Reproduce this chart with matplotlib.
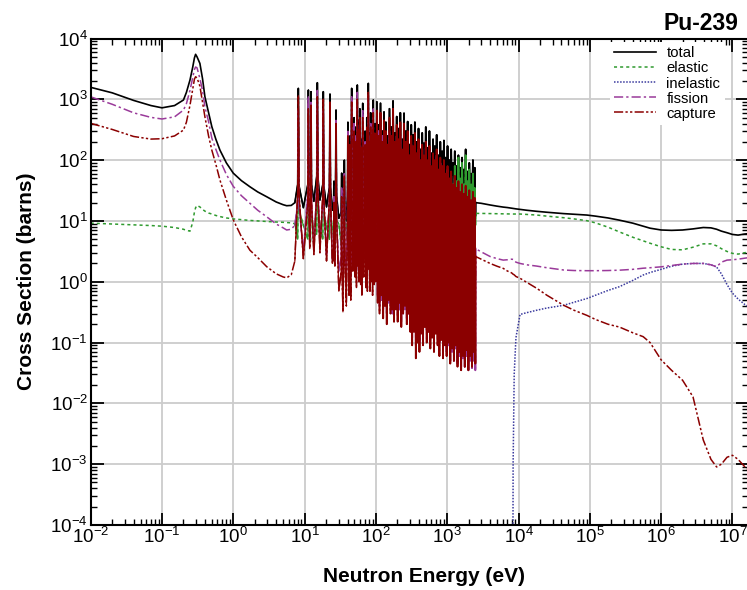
import numpy as np
import matplotlib.pyplot as plt
from matplotlib.ticker import LogLocator, NullFormatter

plt.rcParams['font.family'] = 'Liberation Sans'
plt.rcParams['mathtext.fontset'] = 'custom'
plt.rcParams['mathtext.rm'] = 'Liberation Sans'
plt.rcParams['mathtext.it'] = 'Liberation Sans:italic'
plt.rcParams['mathtext.bf'] = 'Liberation Sans:bold'

# thermal / epithermal smooth part (eV, barns)
E_lo = [0.01, 0.02, 0.04, 0.07, 0.1, 0.15, 0.2, 0.22, 0.247, 0.27, 0.285, 0.296, 0.31, 0.34,
        0.37, 0.4, 0.45, 0.5, 0.57, 0.65, 0.8, 1.0, 1.3, 1.71, 2.2, 2.94, 4.0, 5.0, 5.6, 6.5, 7.3]
tot_lo = [1575, 1280, 960, 790, 725, 790, 975, 1300, 2080, 3400, 4800, 5500, 5000, 3900,
          2200, 1100, 600, 355, 220, 146, 90, 61, 46, 36.5, 30, 25, 20.5, 18.5, 17.8, 18, 20]
ela_lo = [9.2, 8.9, 8.6, 8.4, 8.2, 7.8, 7.3, 7.0, 6.8, 9.5, 14, 16.5, 18, 17,
          15.5, 14.5, 13.5, 13, 12.3, 11.8, 11.2, 10.8, 10.5, 10.2, 10, 9.8, 9.6, 9.5, 9.4, 9.3, 9.0]
fis_lo = [1100, 830, 600, 505, 475, 515, 665, 850, 1400, 2300, 3100, 3400, 3300, 2200,
          1400, 750, 430, 230, 150, 100, 58, 37, 26, 19.5, 15, 11.7, 8.9, 7.7, 7.1, 7.3, 8.5]
cap_lo = [403, 320, 245, 222, 225, 250, 312, 420, 800, 1500, 2150, 2350, 2250, 1650,
          900, 515, 250, 146, 85, 47, 22, 10.4, 5.5, 3.3, 2.5, 1.77, 1.35, 1.2, 1.16, 1.3, 2.2]

# resolved resonances 8-100 eV: left foot, peak, right foot, valley after it
lo_lf_E = [8.0, 11.1, 12.1, 14.8, 18.0, 22.3, 25.4, 27.1, 32.6, 35.5, 39.9, 42.7, 44.9, 48.7,
           51.8, 54.0, 56.9, 58.5, 62.0, 64.2, 69.3, 73.9, 77.0, 81.0, 83.1, 87.9, 90.4, 95.4]
lo_pk_E = [8.17, 11.3, 12.3, 15.1, 18.3, 22.7, 25.8, 27.6, 33.1, 36.1, 40.5, 43.3, 45.7, 49.5,
           52.3, 54.9, 57.3, 59.5, 62.5, 65.3, 70.5, 74.5, 78.3, 81.5, 84.5, 88.5, 91.9, 97.0]
lo_rf_E = [8.35, 11.5, 12.5, 15.4, 18.6, 23.1, 26.2, 28.1, 33.6, 36.7, 41.1, 43.9, 46.5, 50.3,
           52.8, 55.8, 57.7, 60.5, 63.0, 66.4, 71.7, 75.1, 79.6, 82.0, 85.9, 89.1, 93.4, 98.6]
lo_vl_E = [9.6, 11.8, 13.5, 16.4, 20.3, 24.5, 26.6, 30.2, 34.5, 38.5, 42.0, 44.4, 47.5, 51.0,
           53.4, 56.3, 58.1, 61.2, 63.6, 67.5, 72.8, 76.0, 80.4, 82.6, 86.9, 89.8, 94.5, 100.0]

tot_lf = [40, 40, 38, 55, 40, 36, 18, 28, 14, 16, 25, 20, 45, 24, 22, 50, 25, 30, 18, 32,
          18, 24, 50, 20, 28, 22, 35, 22]
tot_pk = [1515, 1420, 1335, 1875, 1335, 1220, 45, 667, 61, 100, 420, 250, 1515, 500, 350, 1720,
          450, 700, 220, 860, 300, 500, 1830, 280, 600, 380, 975, 400]
tot_rf = [38, 42, 40, 52, 38, 35, 17, 26, 13, 15, 24, 19, 44, 23, 21, 48, 24, 28, 17, 30,
          17, 23, 48, 19, 26, 21, 33, 21]
tot_vl = [16.5, 19, 21, 22, 17, 15, 14, 11, 10.5, 10, 11, 11, 13, 14, 12, 13, 12, 12, 11, 12,
          11, 12, 14, 12, 13, 12, 12, 13]

ela_lf = [5, 5, 4.5, 6, 5, 5, 6, 6, 4, 5, 5, 5, 6, 5, 5, 6, 5, 5, 5, 6, 5, 5, 6, 5, 5, 5, 6, 5]
ela_pk = [60, 55, 40, 90, 45, 40, 12, 25, 14, 14, 30, 20, 60, 30, 25, 70, 25, 30, 18, 35,
          20, 28, 70, 20, 30, 22, 40, 25]
ela_rf = [15, 14, 12, 18, 13, 12, 7, 10, 6, 7, 10, 9, 15, 10, 9, 16, 10, 10, 8, 11,
          8, 10, 16, 8, 10, 9, 12, 9]
ela_vl = [8.5, 7, 6.5, 7.5, 8, 8, 8.5, 9, 5, 9, 5, 7, 8.5, 9, 7, 6, 8, 9, 7, 8.5,
          9, 8, 5, 7, 9, 8, 8.5, 9]

fis_lf = [20, 30, 25, 40, 20, 22, 3, 14, 2.5, 4, 10, 8, 30, 12, 10, 35, 12, 14, 8, 18,
          7, 12, 32, 9, 12, 10, 20, 9]
fis_pk = [700, 1100, 900, 1400, 700, 800, 25, 450, 35, 60, 300, 150, 1100, 400, 250, 1300,
          300, 450, 150, 650, 200, 300, 1200, 180, 400, 250, 700, 250]
fis_rf = [18, 28, 23, 38, 18, 20, 2.8, 12, 2.2, 3.5, 9, 7, 28, 11, 9, 32, 11, 13, 7, 17,
          6.5, 11, 30, 8, 11, 9, 18, 8]
fis_vl = [3.0, 4.5, 3.3, 4.0, 2.8, 2.2, 2.0, 1.5, 1.3, 1.4, 2.0, 1.2, 3.0, 2.5, 1.5, 3.5,
          2.0, 2.2, 1.5, 3.0, 2.0, 1.5, 3.5, 1.4, 2.5, 1.5, 2.0, 2.5]

cap_lf = [30, 20, 22, 30, 28, 25, 2.5, 12, 1.5, 3, 8, 7, 25, 9, 8, 28, 10, 14, 7, 14,
          6, 11, 35, 8, 10, 9, 17, 8]
cap_pk = [1150, 700, 800, 1100, 1000, 900, 20, 400, 25, 55, 250, 180, 900, 300, 200, 1000,
          320, 500, 160, 500, 180, 350, 1300, 200, 350, 260, 600, 280]
cap_rf = [28, 18, 20, 28, 26, 23, 2.2, 11, 1.2, 2.6, 7, 6, 23, 8, 7, 26, 9, 13, 6, 13,
          5.5, 10, 32, 7, 9, 8, 16, 7.5]
cap_vl = [2.4, 3.5, 2.8, 3.0, 2.2, 2.0, 1.8, 0.7, 0.32, 0.4, 0.6, 0.5, 1.5, 1.2, 0.8, 1.8,
          1.0, 0.9, 0.6, 1.2, 0.8, 0.7, 1.6, 0.7, 1.0, 0.6, 0.9, 1.0]

# dense resonances 100 eV - 2.5 keV: peak, valley after it
d_pk_E = [103, 109, 116, 123, 130, 138, 146, 155, 165, 174, 185, 196, 208, 220, 234, 248, 263,
          279, 296, 313, 332, 352, 374, 396, 420, 446, 472, 501, 531, 563, 597, 633, 671, 712,
          755, 800, 848, 899, 953, 1011, 1072, 1136, 1205, 1278, 1355, 1436, 1523, 1615, 1712,
          1815, 1925, 2040, 2163, 2294, 2430]
d_vl_E = [106, 112.5, 119.5, 126.5, 134, 142, 150.5, 160, 169.5, 179.5, 190.5, 202, 214, 227,
          241, 255.5, 271, 287.5, 304.5, 322.5, 342, 363, 385, 408, 433, 459, 486.5, 516, 547,
          580, 615, 652, 691.5, 733.5, 777.5, 824, 873.5, 926, 982, 1041, 1104, 1170, 1241,
          1316, 1395, 1479, 1569, 1663, 1763, 1870, 1982, 2100, 2228, 2360, 2480]

tot_dpk = [900, 380, 860, 300, 620, 420, 250, 700, 350, 940, 280, 520, 330, 600, 220, 590, 300,
           430, 180, 380, 260, 420, 200, 330, 150, 280, 190, 350, 160, 300, 130, 220, 170, 260,
           120, 200, 140, 210, 110, 170, 100, 150, 90, 140, 80, 120, 75, 110, 70,
           150, 65, 90, 60, 100, 75]
tot_dvl = [12, 10, 13, 9.5, 11, 12, 10, 13, 11, 9.5, 12, 10.5, 13, 10, 11.5, 12, 10, 12.5, 9, 11,
           12, 10, 11.5, 12, 10, 11, 12.5, 10, 11, 12, 10.5, 11, 12, 10, 11.5, 10.5, 12, 11, 10,
           12, 11, 12.5, 10.5, 12, 11, 13, 11, 12, 11.5, 13, 11, 12.5, 12, 13, 12]
ela_dpk = [40, 20, 50, 18, 35, 25, 15, 45, 20, 60, 18, 30, 20, 35, 15, 40, 20, 30, 14, 28,
           20, 30, 15, 25, 14, 22, 16, 28, 15, 25, 14, 22, 18, 26, 15, 24, 18, 28, 20, 35,
           30, 55, 40, 80, 45, 110, 50, 90, 40, 120, 45, 70, 40, 60, 35]
ela_dvl = [8, 6, 9, 5, 7, 8.5, 6.5, 9, 7, 5.5, 8, 6, 9, 7, 8, 6, 9, 7.5, 6, 8.5,
           7, 9, 6.5, 8, 7, 9, 6, 8.5, 7, 9, 6.5, 8, 7.5, 9, 6, 8.5, 7, 9, 6.5, 8,
           7, 9, 6.5, 8.5, 7, 9.5, 7, 9, 7.5, 10, 7, 9, 8, 9.5, 8.5]
fis_dpk = [500, 300, 350, 250, 300, 200, 150, 300, 200, 350, 150, 250, 200, 250, 120, 300, 150,
           200, 100, 180, 120, 200, 110, 150, 90, 150, 100, 160, 90, 140, 75, 110, 90, 120,
           65, 90, 70, 80, 55, 70, 45, 55, 38, 50, 32, 40, 28, 36, 26, 34, 24, 30, 21, 28, 23]
fis_dvl = [0.6, 0.4, 0.5, 0.35, 0.5, 0.3, 0.45, 0.4, 0.3, 0.3, 0.4, 0.28, 0.35, 0.22, 0.3,
           0.35, 0.25, 0.3, 0.2, 0.12, 0.25, 0.09, 0.15, 0.1, 0.18, 0.14, 0.2, 0.16, 0.2, 0.14,
           0.16, 0.12, 0.18, 0.14, 0.1, 0.14, 0.09, 0.11, 0.07, 0.09, 0.05, 0.07, 0.05, 0.08,
           0.045, 0.06, 0.04, 0.055, 0.04, 0.06, 0.035, 0.05, 0.038, 0.05, 0.035]
cap_dpk = [650, 250, 600, 200, 450, 300, 180, 500, 250, 700, 200, 380, 220, 420, 150, 400, 200,
           300, 120, 250, 170, 280, 130, 220, 100, 180, 120, 200, 100, 170, 80, 130, 100, 150,
           70, 110, 80, 100, 60, 80, 50, 65, 40, 55, 35, 45, 30, 40, 28, 38, 25, 32, 22, 30, 24]
cap_dvl = [0.45, 0.3, 0.6, 0.25, 0.4, 0.2, 0.5, 0.3, 0.35, 0.22, 0.35, 0.22, 0.45, 0.18, 0.3,
           0.4, 0.2, 0.3, 0.15, 0.09, 0.15, 0.055, 0.1, 0.07, 0.14, 0.09, 0.18, 0.1, 0.15, 0.08,
           0.12, 0.07, 0.14, 0.09, 0.06, 0.11, 0.055, 0.09, 0.06, 0.1, 0.045, 0.08, 0.05, 0.09,
           0.04, 0.07, 0.035, 0.06, 0.04, 0.075, 0.035, 0.06, 0.04, 0.07, 0.045]

# fast region, smooth
E_hi = [2500, 3000, 4000, 5000, 6100, 7000, 8000, 8400, 8700, 9200, 1.05e4, 1.3e4, 1.8e4,
        2.5e4, 4.3e4, 6e4, 9.1e4, 1.2e5, 1.8e5, 2.6e5, 4e5, 5.6e5, 7e5, 1e6, 1.4e6, 2e6,
        2.8e6, 3.9e6, 5e6, 6e6, 7e6, 8.4e6, 1e7, 1.2e7, 1.5e7, 1.7e7]
tot_hi = [20, 19.5, 18.3, 17.5, 16.9, 16.6, 16.2, 16.1, 16.0, 15.8, 15.5, 15.0, 14.4,
          13.9, 13.2, 12.9, 12.5, 12.0, 11.2, 10.3, 9.2, 8.2, 7.6, 7.1, 7.0, 7.1,
          7.4, 7.8, 7.7, 7.3, 6.8, 6.4, 6.0, 5.85, 6.1, 6.2]
ela_hi = [13.3, 13.3, 13.2, 13.1, 13.1, 13.0, 13.0, 13.0, 13.0, 13.0, 13.0, 12.8, 12.5,
          12.0, 11.3, 10.8, 10.1, 9.3, 7.9, 6.6, 5.4, 4.7, 4.3, 3.76, 3.4, 3.35,
          3.7, 4.2, 4.2, 3.9, 3.5, 3.15, 2.93, 2.85, 3.0, 3.1]
fis_hi = [3.5, 3.1, 2.6, 2.4, 2.27, 2.3, 2.35, 2.33, 2.25, 2.1, 2.0, 1.9, 1.81,
          1.7, 1.56, 1.53, 1.52, 1.52, 1.53, 1.55, 1.6, 1.67, 1.7, 1.76, 1.85, 1.95,
          2.0, 2.0, 1.9, 1.76, 2.1, 2.27, 2.3, 2.35, 2.45, 2.5]
cap_hi = [2.6, 2.35, 2.0, 1.8, 1.66, 1.5, 1.4, 1.33, 1.3, 1.22, 1.14, 0.98, 0.78,
          0.6, 0.41, 0.34, 0.28, 0.24, 0.2, 0.18, 0.145, 0.125, 0.1, 0.052, 0.035, 0.024,
          0.0128, 0.0025, 0.0012, 9e-4, 1.0e-3, 1.3e-3, 1.4e-3, 1.2e-3, 9e-4, 8e-4]

inel_E = [8300, 8400, 8700, 9200, 1.05e4, 1.3e4, 1.8e4, 2.5e4, 4.3e4, 6e4, 9.1e4, 1.2e5,
          1.8e5, 2.6e5, 4e5, 5.6e5, 7e5, 1e6, 1.4e6, 2e6, 2.8e6, 3.9e6, 5e6, 6e6, 7e6,
          8.4e6, 1e7, 1.2e7, 1.5e7, 1.7e7]
inel_xs = [1e-6, 1e-3, 0.03, 0.12, 0.29, 0.31, 0.34, 0.37, 0.41, 0.46, 0.53, 0.6,
           0.72, 0.83, 1.05, 1.29, 1.42, 1.6, 1.8, 1.95, 2.0, 2.0, 1.9, 1.75, 1.35,
           0.9, 0.65, 0.52, 0.42, 0.39]


def weave(*cols):
    # interleave the lists point by point: a0, b0, c0, a1, b1, c1 ...
    return np.column_stack(cols).ravel()


lo_E = weave(lo_lf_E, lo_pk_E, lo_rf_E, lo_vl_E)
d_E = weave(d_pk_E, d_vl_E)

fig = plt.figure(figsize=(7.47, 5.90), dpi=100)
ax = fig.add_axes([0.1214, 0.1102, 0.8806, 0.8245])

channels = [
    ('total', (tot_lo, tot_lf, tot_pk, tot_rf, tot_vl, tot_dpk, tot_dvl, tot_hi),
     'black', '-', 1.2),
    ('elastic', (ela_lo, ela_lf, ela_pk, ela_rf, ela_vl, ela_dpk, ela_dvl, ela_hi),
     '#2f9a2f', (0, (2, 2)), 1.1),
    ('inelastic', None, '#3a3a9e', (0, (1, 1)), 1.1),
    ('fission', (fis_lo, fis_lf, fis_pk, fis_rf, fis_vl, fis_dpk, fis_dvl, fis_hi),
     '#9a3a9a', (0, (6, 2, 1.5, 2)), 1.1),
    ('capture', (cap_lo, cap_lf, cap_pk, cap_rf, cap_vl, cap_dpk, cap_dvl, cap_hi),
     '#8b0000', (0, (6, 1.5, 1.5, 1.5, 1.5, 1.5)), 1.1),
]

for name, d, col, ls, lw in channels:
    if d is None:
        ax.plot(inel_E, inel_xs, color=col, ls=ls, lw=lw, label=name)
        continue
    lo, lf, pk, rf, vl, dpk, dvl, hi = d
    res_lo = weave(lf, pk, rf, vl)
    res_d = weave(dpk, dvl)
    ax.plot(np.concatenate([E_lo, lo_E, d_E, E_hi]),
            np.concatenate([lo, res_lo, res_d, hi]),
            color=col, ls=ls, lw=lw, label=name)
    # resonance region drawn solid so the spikes and the dense band fill in
    ax.plot(np.concatenate([[E_lo[-1]], lo_E, [d_pk_E[0]]]),
            np.concatenate([[lo[-1]], res_lo, [dpk[0]]]),
            color=col, ls='-', lw=0.9)
    ax.plot(np.concatenate([d_E, [E_hi[0]]]), np.concatenate([res_d, [hi[0]]]),
            color=col, ls='-', lw=1.3)

ax.set_xscale('log')
ax.set_yscale('log')
ax.set_xlim(1e-2, 1.68e7)
ax.set_ylim(1e-4, 1e4)

for axis in (ax.xaxis, ax.yaxis):
    axis.set_major_locator(LogLocator(base=10, numticks=20))
    axis.set_minor_locator(LogLocator(base=10, subs=np.arange(2, 10) * 1.0, numticks=200))
    axis.set_minor_formatter(NullFormatter())

ax.grid(True, which='major', color='#cccccc', lw=1.3)
ax.set_axisbelow(True)
ax.tick_params(which='both', direction='in', top=True, right=True, labelsize=13.5)
ax.tick_params(which='major', length=9, width=1.3)
ax.tick_params(which='minor', length=4.5, width=1.0)
ax.tick_params(axis='y', pad=2)
ax.tick_params(axis='x', pad=1.5)
for sp in ax.spines.values():
    sp.set_linewidth(1.5)

leg = ax.legend(loc='upper left', bbox_to_anchor=(610 / 747, 1 - 42 / 590),
                bbox_transform=fig.transFigure, fontsize=10.7, frameon=True,
                fancybox=False, edgecolor='none', facecolor='white', framealpha=1,
                borderpad=0.3, borderaxespad=0, handlelength=2.8, handletextpad=0.7,
                labelspacing=0.07)

fig.text(738 / 747, 1 - 23.5 / 590, 'Pu-239', ha='right', va='center',
         fontsize=16.5, fontweight='bold')
fig.text(424 / 747, 1 - 577 / 590, 'Neutron Energy (eV)', ha='center', va='center',
         fontsize=15, fontweight='bold')
fig.text(27 / 747, 1 - 281 / 590, 'Cross Section (barns)', ha='center', va='center',
         rotation=90, fontsize=15, fontweight='bold')

fig.savefig('out.png', dpi=100)
